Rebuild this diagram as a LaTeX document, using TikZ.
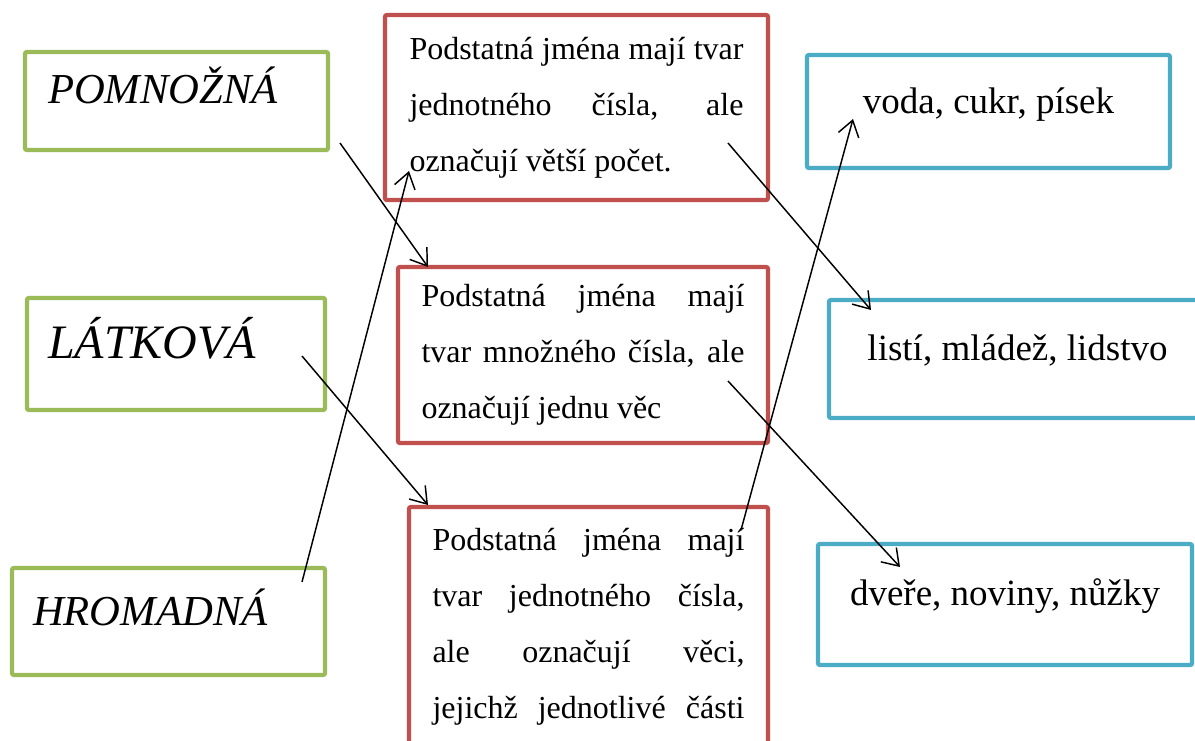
\documentclass[tikz,border=0pt]{standalone}
\usepackage{fontspec}
\setmainfont{Liberation Serif}
\usetikzlibrary{arrows.meta}
\definecolor{tileGreen}{HTML}{9BBB59}
\definecolor{tileRed}{HTML}{C0504D}
\definecolor{tileBlue}{HTML}{4BACC6}
\newdimen\px \px=0.75pt
\newcommand{\jline}[1]{\makebox[\linewidth][s]{\spaceskip=0pt #1}}

\begin{document}
\begin{tikzpicture}[x=0.75pt, y=-0.75pt,
  >={Straight Barb[length=11.6pt,width=15.8pt]},
  tile/.style={draw, line width=3.2pt, rounded corners=1.5pt, anchor=north west,
    inner ysep=0pt, outer sep=0pt},
  namebox/.style={tile, draw=tileGreen, align=left, font=\fontsize{32}{36}\itshape},
  defbox/.style={tile, draw=tileRed, align=justify, inner xsep=23.5\px, font=\fontsize{24}{42}\selectfont},
  examplebox/.style={tile, draw=tileBlue, font=\fontsize{27.75}{32}\selectfont},
  link/.style={->, line width=1.1pt}]
  \useasboundingbox (0,0) rectangle (1195,740);
  \fill[white] (0,0) rectangle (1195,740);
  \clip (0,0) rectangle (1195,740);

  % names (left)
  \node[namebox, inner xsep=23\px, text width=257\px, text height=51\px, text depth=47\px] (pomn) at (25,52) {POMNOŽNÁ};
  \node[namebox, inner xsep=21\px, text width=256\px, text height=60\px, text depth=52\px,
    font=\fontsize{36}{40}\itshape] (latk) at (27,298) {LÁTKOVÁ};
  \node[namebox, inner xsep=21\px, text width=271\px, text height=57\px, text depth=50\px] (hrom) at (12,568) {HROMADNÁ};

  % definitions (middle)
  \node[defbox, inner xsep=24.5\px, text width=334\px, minimum height=185\px] (def1) at (385,15)
    {\jline{Podstatná jména mají tvar}\\ \jline{jednotného čísla, ale}\\ označují větší počet.};
  \node[defbox, text width=323\px, minimum height=176\px] (def2) at (398,267)
    {\jline{Podstatná jména mají}\\ \jline{tvar množného čísla, ale}\\ označují jednu věc};
  \node[defbox, text width=312\px, minimum height=239\px] (def3) at (409,507)
    {\jline{Podstatná jména mají}\\ \jline{tvar jednotného čísla,}\\ \jline{ale označují věci,}\\ \jline{jejichž jednotlivé části}};

  % examples (right)
  \node[examplebox, minimum width=363\px, text height=58\px, text depth=55\px] (ex1) at (807,55) {voda, cukr, písek};
  \node[examplebox, minimum width=377\px, text height=60\px, text depth=58\px] (ex2) at (829,300) {listí, mládež, lidstvo};
  \node[examplebox, minimum width=374\px, text height=61\px, text depth=60\px] (ex3) at (818,544) {dveře, noviny, nůžky};

  % arrow ends
  \coordinate (pomnOut) at (340,143);
  \coordinate (latkOut) at (302,356);
  \coordinate (hromOut) at (302,582);
  \coordinate (def1In) at (409,171);
  \coordinate (def2In) at (428,267);
  \coordinate (def3In) at (428,505);
  \coordinate (def1Out) at (728,143);
  \coordinate (def2Out) at (728,381);
  \coordinate (def3Out) at (741,530);
  \coordinate (ex1In) at (853,119);
  \coordinate (ex2In) at (871,310);
  \coordinate (ex3In) at (900,567);

  \draw[link] (pomnOut) -- (def2In);
  \draw[link] (latkOut) -- (def3In);
  \draw[link] (hromOut) -- (def1In);
  \draw[link] (def1Out) -- (ex2In);
  \draw[link] (def2Out) -- (ex3In);
  \draw[link] (def3Out) -- (ex1In);
\end{tikzpicture}
\end{document}
